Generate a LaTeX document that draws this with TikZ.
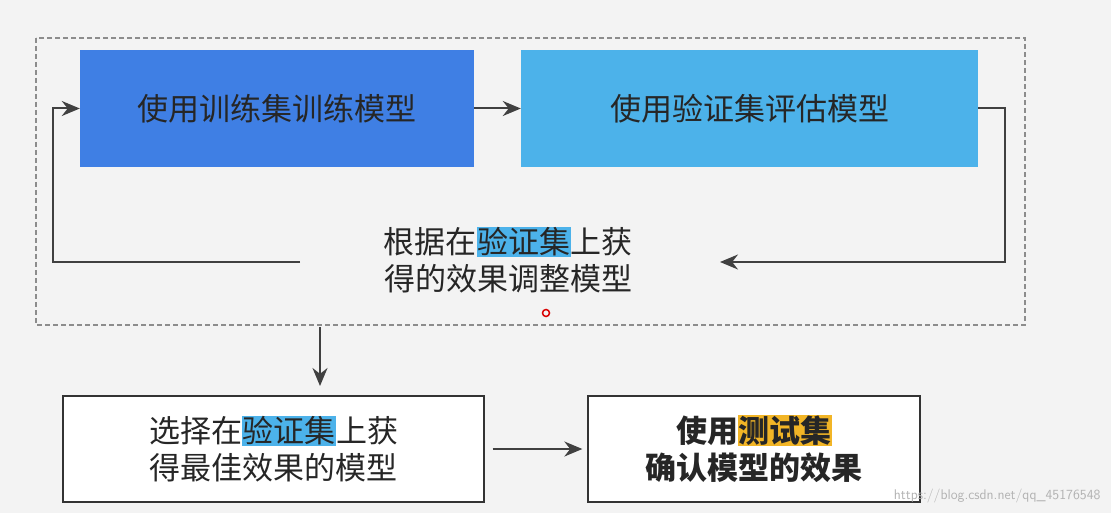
\documentclass[tikz,border=0pt]{standalone}
\usepackage{fontspec}
\setmainfont{Noto Sans CJK SC}
\usetikzlibrary{arrows.meta}
\definecolor{bgc}{HTML}{F3F3F3}
\definecolor{dblue}{HTML}{3F7FE4}
\definecolor{lblue}{HTML}{4CB2EA}
\definecolor{hlb}{HTML}{4CB2EA}
\definecolor{hlo}{HTML}{F2B526}
\newcommand{\hlbox}[2]{{\setlength{\fboxsep}{0.5pt}\colorbox{#1}{#2}}}
\tikzset{
 arr/.style={draw=black!75,line width=2pt,-{Stealth[length=18pt,width=15pt]}},
 topbox/.style={minimum width=394pt,minimum height=117pt,inner sep=0pt,font=\fontsize{31}{37}\selectfont,text=black!85},
 botbox/.style={draw=black!80,line width=1.3pt,fill=white,inner sep=0pt,align=center,font=\fontsize{31}{37}\selectfont,text=black!85}
}
\begin{document}
\begin{tikzpicture}[x=1pt,y=-1pt]
\fill[bgc] (0,0) rectangle (1111,513);
\useasboundingbox (0,0) rectangle (1111,513);
\draw[black!45,dashed,line width=1.2pt,dash pattern=on 5pt off 3pt] (36,38) rectangle (1025,325);
\node[topbox,fill=dblue] (b1) at (277,108.5) {使用训练集训练模型};
\node[topbox,fill=lblue,minimum width=457pt] (b2) at (749.5,108.5) {使用验证集评估模型};
\node[align=center,font=\fontsize{31}{37}\selectfont,text=black!85] (mid) at (508,260) {根据在\hlbox{hlb}{验证集}上获\\得的效果调整模型};
\coordinate (rl) at (720,262);
\coordinate (ll) at (300,262);
\draw[arr] (b1.east) -- (b2.west);
\draw[arr] (b2.east) -- (1005,108.5) -- (1005,262) -- (rl);
\draw[arr] (ll) -- (53,262) -- (53,108.5) -- (b1.west);
\draw[red!85!black,line width=1.5pt] (546,313) circle (3.5pt);
\node[botbox,minimum width=421pt,minimum height=106pt] (c1) at (273.5,449) {选择在\hlbox{hlb}{验证集}上获\\得最佳效果的模型};
\node[botbox,minimum width=332pt,minimum height=106pt,font=\fontsize{31}{37}\selectfont\bfseries] (c2) at (754,449) {使用\hlbox{hlo}{测试集}\\确认模型的效果};
\coordinate (dtop) at (320,327);
\draw[arr] (dtop) -- (320,386);
\draw[arr] (c1.east) ++(8,0) -- ([xshift=-5pt]c2.west);
\node[anchor=east,text=black!30,font=\fontsize{14}{16}\selectfont\sffamily] (wm) at (1104,496) {https://blog.csdn.net/qq\_45176548};
\end{tikzpicture}
\end{document}
